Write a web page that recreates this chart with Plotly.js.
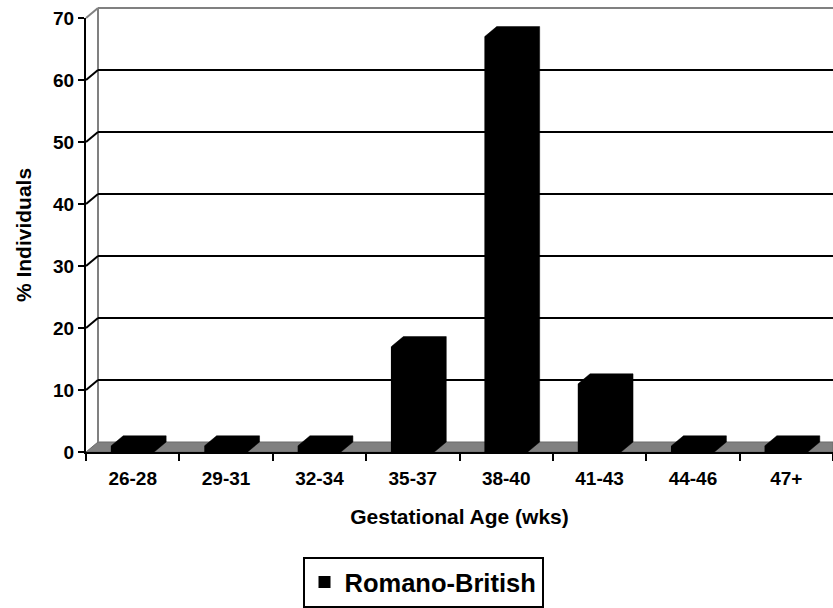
<!DOCTYPE html>
<html>
<head>
<meta charset="utf-8">
<script src="https://cdn.plot.ly/plotly-3.0.1.min.js"></script>
<style>html,body{margin:0;padding:0;background:#fff;}#chart{width:833px;height:608px;}</style>
</head>
<body>
<div id="chart"></div>
<script>
// ---- data ----
var categories = ["26-28", "29-31", "32-34", "35-37", "38-40", "41-43", "44-46", "47+"];
var seriesName = "Romano-British";
var percentIndividuals = [1, 1, 1, 17, 67, 11, 1, 1];
var yTicks = [0, 10, 20, 30, 40, 50, 60, 70];

// ---- pseudo-3D geometry (style only) ----
var W = 833, H = 608, ML = 86, MR = 0, MT = 18, MB = 156;
var plotW = W - ML - MR, plotH = H - MT - MB;
var yMax = 70;
var depthPx = 12, risePx = 10;
var dxPaper = depthPx / plotW, dyPaper = risePx / plotH;
var catPx = plotW / categories.length;
var dxData = depthPx / catPx, dyData = risePx * yMax / plotH;
var barW = 0.46;

// depth polygons (front + top + side) for each bar, built from the data
var px = [], py = [];
percentIndividuals.forEach(function (v, i) {
  var x0 = i - barW / 2, x1 = i + barW / 2;
  px.push(x0, x0, x0 + dxData, x1 + dxData, x1 + dxData, x1, x0, null);
  py.push(0, v, v + dyData, v + dyData, dyData, 0, 0, null);
});

var shapes = [];
// floor
shapes.push({type: 'path', xref: 'paper', yref: 'paper', layer: 'below',
  path: 'M0,0 L' + dxPaper + ',' + dyPaper + ' L1,' + dyPaper + ' L1,0 Z',
  fillcolor: '#808080', line: {color: '#6a6a6a', width: 1}});
// back wall left edge
shapes.push({type: 'line', xref: 'paper', yref: 'paper', layer: 'below',
  x0: dxPaper, x1: dxPaper, y0: dyPaper, y1: 1 + dyPaper,
  line: {color: '#808080', width: 2}});
yTicks.forEach(function (t) {
  if (t === 0) return;
  var yp = t / yMax;
  var col = (t === yMax) ? '#808080' : '#000000';
  shapes.push({type: 'line', xref: 'paper', yref: 'paper', layer: 'below',
    x0: dxPaper, x1: 1, y0: yp + dyPaper, y1: yp + dyPaper,
    line: {color: col, width: 2}});
  shapes.push({type: 'line', xref: 'paper', yref: 'paper', layer: 'below',
    x0: 0, x1: dxPaper, y0: yp, y1: yp + dyPaper,
    line: {color: col, width: 2}});
});

var font = {family: 'Liberation Sans, Arial, sans-serif', color: '#000000', weight: 'bold'};
function f(sz) { return Object.assign({}, font, {size: sz}); }

var data = [
  {type: 'bar', x: categories, y: percentIndividuals, name: seriesName,
   width: barW, marker: {color: '#000000', line: {width: 0}}, xaxis: 'x', yaxis: 'y',
   hoverinfo: 'x+y'},
  {type: 'scatter', mode: 'lines', x: px, y: py, xaxis: 'x2', yaxis: 'y',
   fill: 'toself', fillcolor: '#000000', line: {color: '#000000', width: 0.5},
   showlegend: false, hoverinfo: 'skip'}
];

var layout = {
  width: W, height: H,
  margin: {l: ML, r: MR, t: MT, b: MB, pad: 0},
  paper_bgcolor: '#ffffff', plot_bgcolor: 'rgba(0,0,0,0)',
  font: f(19),
  showlegend: true,
  xaxis: {type: 'category', range: [-0.5, categories.length - 0.5],
    showline: true, linecolor: '#000000', linewidth: 2,
    ticks: 'outside', tickson: 'boundaries', ticklen: 7, tickwidth: 2, tickcolor: '#000000',
    ticklabelstandoff: 8,
    showgrid: false, zeroline: false, tickfont: f(19), fixedrange: true,
    title: {text: 'Gestational Age (wks)', font: f(21), standoff: 22}},
  xaxis2: {overlaying: 'x', anchor: 'y', range: [-0.5, categories.length - 0.5],
    visible: false, fixedrange: true},
  yaxis: {range: [0, yMax], tickvals: yTicks, showline: true, linecolor: '#000000', linewidth: 2,
    ticks: 'outside', ticklen: 6, tickwidth: 2, tickcolor: '#000000',
    showgrid: false, zeroline: false, tickfont: f(19), fixedrange: true,
    title: {text: '% Individuals', font: f(21), standoff: 16}},
  legend: {orientation: 'h', x: (423 - ML) / plotW, xanchor: 'center',
    y: (MT + plotH - 583) / plotH, yanchor: 'middle',
    bordercolor: '#000000', borderwidth: 2, bgcolor: '#ffffff', font: f(25.5)},
  shapes: shapes,
  bargap: 0
};

Plotly.newPlot('chart', data, layout, {displayModeBar: false, staticPlot: true});
</script>
</body>
</html>
